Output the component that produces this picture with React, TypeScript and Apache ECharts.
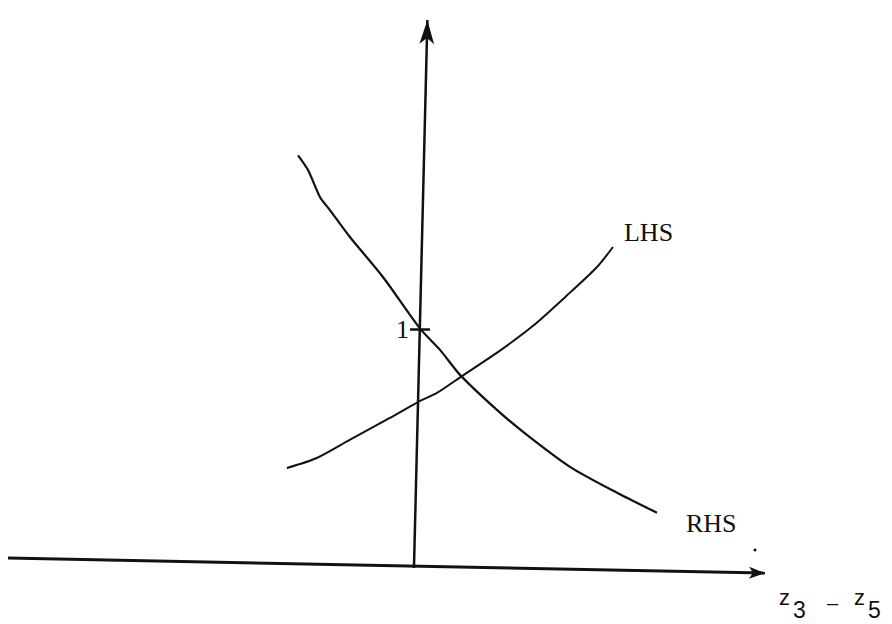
import React, { useEffect, useRef } from "react";
import * as echarts from "echarts";

// LHS curve (x = z3 - z5, y = value)
const lhsX = [-0.544, -0.418, -0.28, -0.111, 0.007, 0.087, 0.192, 0.352, 0.491, 0.634, 0.76, 0.827];
const lhsY = [0.415, 0.457, 0.533, 0.625, 0.692, 0.73, 0.801, 0.908, 1.012, 1.14, 1.259, 1.343];

// RHS curve
const rhsX = [-0.497, -0.455, -0.405, -0.363, -0.279, -0.14, 0.016, 0.1, 0.184, 0.339, 0.465, 0.646, 0.844, 1.012];
const rhsY = [1.728, 1.666, 1.553, 1.498, 1.385, 1.217, 1.0, 0.911, 0.806, 0.659, 0.554, 0.42, 0.311, 0.227];

// hand-drawn axes (slightly skewed in the scan)
const hAxisStart = [-1.7165, 0.037];
const hAxisEnd = [1.466, -0.026];
const vAxisStart = [-0.0097, -0.005];
const vAxisEnd = [0.0467, 2.296];
const tickStart = [-0.0265, 0.996];
const tickEnd = [0.0576, 0.996];
const tickLabel = "1";

const seriesNames = ["LHS", "RHS"];

const ink = "#111";
const serif = "'Liberation Serif', 'DejaVu Serif', serif";
const sans = "'Liberation Sans', 'DejaVu Sans', sans-serif";

export default function App() {
  const ref = useRef<HTMLDivElement>(null);
  useEffect(() => {
    if (!ref.current) return;
    const chart = echarts.init(ref.current, undefined, { renderer: "svg" });
    const zip = (xs: number[], ys: number[]) => xs.map((x, i) => [x, ys[i]]);
    chart.setOption({
      animation: false,
      backgroundColor: "#fff",
      grid: { left: 0, right: 0, top: 0, bottom: 0 },
      xAxis: { type: "value", min: -1.75, max: 2.0, show: false },
      yAxis: { type: "value", min: -0.24, max: 2.38, show: false },
      series: [
        {
          name: seriesNames[0],
          type: "line",
          data: zip(lhsX, lhsY),
          smooth: 0.25,
          showSymbol: false,
          lineStyle: { color: ink, width: 2 },
          endLabel: {
            show: true,
            formatter: seriesNames[0],
            fontFamily: serif,
            fontSize: 26,
            color: ink,
            offset: [3, -14],
          },
          markLine: {
            silent: true,
            symbol: "none",
            animation: false,
            label: { show: false },
            lineStyle: { color: ink, type: "solid" },
            data: [
              [
                { coord: hAxisStart, symbol: "none", lineStyle: { width: 3, color: ink, type: "solid" } },
                { coord: hAxisEnd, symbol: "arrow", symbolSize: [9, 16] },
              ],
              [
                { coord: vAxisStart, symbol: "none", lineStyle: { width: 2.5, color: ink, type: "solid" } },
                { coord: vAxisEnd, symbol: "arrow", symbolSize: [11, 24] },
              ],
              [
                {
                  coord: tickStart,
                  symbol: "none",
                  lineStyle: { width: 2.5, color: ink, type: "solid" },
                  label: {
                    show: true,
                    position: "start",
                    formatter: tickLabel,
                    fontFamily: serif,
                    fontSize: 26,
                    color: ink,
                    distance: 1,
                  },
                },
                { coord: tickEnd, symbol: "none" },
              ],
            ],
          },
        },
        {
          name: seriesNames[1],
          type: "line",
          data: zip(rhsX, rhsY),
          smooth: 0.25,
          showSymbol: false,
          lineStyle: { color: ink, width: 2.2 },
          endLabel: {
            show: true,
            formatter: seriesNames[1],
            fontFamily: serif,
            fontSize: 26,
            color: ink,
            offset: [21, 11],
          },
        },
      ],
      graphic: [
        { type: "text", left: 779, top: 586, style: { text: "z", font: `22px ${sans}`, fill: ink } },
        { type: "text", left: 793, top: 598, style: { text: "3", font: `23px ${sans}`, fill: ink } },
        { type: "text", left: 827, top: 593, style: { text: "–", font: `20px ${sans}`, fill: ink } },
        { type: "text", left: 854, top: 586, style: { text: "z", font: `22px ${sans}`, fill: ink } },
        { type: "text", left: 868, top: 598, style: { text: "5", font: `23px ${sans}`, fill: ink } },
        { type: "circle", shape: { cx: 755, cy: 550, r: 1.5 }, style: { fill: ink } },
      ],
    });
    return () => chart.dispose();
  }, []);
  return (
    <div
      ref={ref}
      style={{ position: "fixed", left: 0, top: 0, width: 892, height: 624, background: "#fff" }}
    />
  );
}
